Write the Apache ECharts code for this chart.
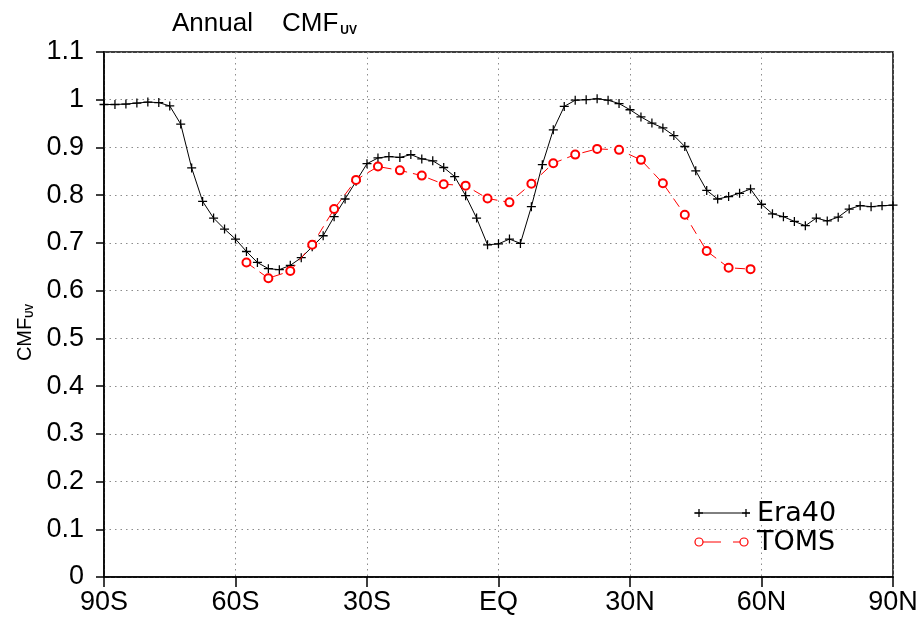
<!DOCTYPE html>
<html>
<head>
<meta charset="utf-8">
<script src="https://cdn.jsdelivr.net/npm/echarts@6/dist/echarts.min.js"></script>
<style>
  html, body { margin: 0; padding: 0; background: #fff; }
  #chart { width: 923px; height: 623px; }
</style>
</head>
<body>
<div id="chart"></div>
<script>
// Zonal-mean annual UV cloud modification factor, 90S..90N
const eraLat = [
  -90, -87.5, -85, -82.5, -80, -77.5, -75, -72.5, -70, -67.5, -65, -62.5,
  -60, -57.5, -55, -52.5, -50, -47.5, -45, -42.5, -40, -37.5, -35, -32.5,
  -30, -27.5, -25, -22.5, -20, -17.5, -15, -12.5, -10, -7.5, -5, -2.5,
  0, 2.5, 5, 7.5, 10, 12.5, 15, 17.5, 20, 22.5, 25, 27.5,
  30, 32.5, 35, 37.5, 40, 42.5, 45, 47.5, 50, 52.5, 55, 57.5,
  60, 62.5, 65, 67.5, 70, 72.5, 75, 77.5, 80, 82.5, 85, 87.5, 90
];
const eraCmf = [
  0.990, 0.990, 0.991, 0.993, 0.995, 0.994, 0.987, 0.949, 0.857, 0.787, 0.752, 0.729,
  0.708, 0.682, 0.659, 0.646, 0.644, 0.653, 0.669, 0.692, 0.715, 0.755, 0.792, 0.829,
  0.866, 0.878, 0.881, 0.879, 0.885, 0.876, 0.872, 0.858, 0.839, 0.799, 0.752, 0.696,
  0.698, 0.708, 0.699, 0.776, 0.864, 0.937, 0.986, 0.999, 1.000, 1.002, 0.999, 0.992,
  0.979, 0.964, 0.951, 0.941, 0.925, 0.902, 0.851, 0.810, 0.792, 0.797, 0.804, 0.813,
  0.781, 0.761, 0.755, 0.745, 0.736, 0.752, 0.746, 0.754, 0.771, 0.778, 0.776, 0.778, 0.779
];
const tomsLat = [
  -57.5, -52.5, -47.5, -42.5, -37.5, -32.5, -27.5, -22.5, -17.5, -12.5, -7.5, -2.5,
  2.5, 7.5, 12.5, 17.5, 22.5, 27.5, 32.5, 37.5, 42.5, 47.5, 52.5, 57.5
];
const tomsCmf = [
  0.659, 0.626, 0.641, 0.696, 0.771, 0.832, 0.860, 0.852, 0.841, 0.823, 0.820, 0.793,
  0.785, 0.824, 0.867, 0.885, 0.897, 0.895, 0.874, 0.825, 0.759, 0.683, 0.648, 0.645
];

const xTickValues = [-90, -60, -30, 0, 30, 60, 90];
const xTickLabels = ['90S', '60S', '30S', 'EQ', '30N', '60N', '90N'];
const yTickLabels = ['0', '0.1', '0.2', '0.3', '0.4', '0.5', '0.6', '0.7', '0.8', '0.9', '1', '1.1'];

const seriesNames = ['Era40', 'TOMS'];

const SANS = '"Liberation Sans", Arial, sans-serif';
const WIDE = '"DejaVu Sans", "Liberation Sans", sans-serif';

// plus-shaped marker built from two thin bars
const PLUS = 'path://M0,4.3H10V5.7H0Z M4.3,0H5.7V10H4.3Z';

const pairs = (xs, ys) => xs.map((x, i) => [x, ys[i]]);

const chart = echarts.init(document.getElementById('chart'), null, { renderer: 'canvas' });

const blackLine = { stroke: '#000', lineWidth: 1.3 };
const redLine = { stroke: '#ff0000', lineWidth: 1 };
const gridDots = { color: '#8c8c8c', width: 1, type: [1.5, 4] };

const option = {
  animation: false,
  backgroundColor: '#fff',
  title: {
    left: 167,
    top: 6,
    text: '{a|Annual}{b|CMF}{c|UV}',
    textStyle: {
      rich: {
        a: { fontFamily: SANS, fontSize: 26, color: '#000', fontWeight: 'normal' },
        b: { fontFamily: SANS, fontSize: 26, color: '#000', fontWeight: 'normal', padding: [0, 0, 0, 29] },
        c: { fontFamily: SANS, fontSize: 12, color: '#000', fontWeight: 'bold', verticalAlign: 'bottom', padding: [0, 0, 0, 2] }
      }
    }
  },
  grid: {
    left: 104, right: 30, top: 52, bottom: 46,
    show: true, borderColor: '#000', borderWidth: 1.5
  },
  xAxis: {
    type: 'value',
    min: -90, max: 90, interval: 30,
    axisLine: { show: true, onZero: false, lineStyle: { color: '#000', width: 1.5 } },
    axisTick: { show: true, length: 10, lineStyle: { color: '#000', width: 1.5 } },
    axisLabel: {
      margin: 12,
      fontFamily: SANS, fontSize: 27, color: '#000',
      formatter: v => xTickLabels[xTickValues.indexOf(v)]
    },
    splitLine: { show: true, lineStyle: gridDots }
  },
  yAxis: {
    type: 'value',
    min: 0, max: 1.1, interval: 0.1,
    name: '{a|CMF}{b|UV}',
    nameLocation: 'middle',
    nameRotate: 90,
    nameGap: 66,
    nameTextStyle: {
      padding: [0, 36, 0, 0],
      rich: {
        a: { fontFamily: SANS, fontSize: 20, color: '#000' },
        b: { fontFamily: SANS, fontSize: 10, color: '#000', fontWeight: 'bold', verticalAlign: 'bottom' }
      }
    },
    axisLine: { show: true, onZero: false, lineStyle: { color: '#000', width: 1.5 } },
    axisTick: { show: true, length: 8, lineStyle: { color: '#000', width: 1.5 } },
    axisLabel: {
      margin: 20,
      fontFamily: SANS, fontSize: 27, color: '#000',
      formatter: v => yTickLabels[Math.round(v * 10)]
    },
    splitLine: { show: true, lineStyle: gridDots }
  },
  series: [
    {
      name: seriesNames[0],
      type: 'line',
      data: pairs(eraLat, eraCmf),
      symbol: PLUS,
      symbolSize: 9,
      showAllSymbol: true,
      itemStyle: { color: '#000', borderWidth: 0 },
      lineStyle: { color: '#000', width: 1 },
      z: 3
    },
    {
      name: seriesNames[1],
      type: 'line',
      data: pairs(tomsLat, tomsCmf),
      symbol: 'emptyCircle',
      symbolSize: 8,
      showAllSymbol: true,
      itemStyle: { color: '#ff0000', borderWidth: 1.2 },
      lineStyle: { color: '#ff0000', width: 1, type: [10, 6] },
      z: 4
    }
  ],
  graphic: [
    // legend, lower right of the plot
    { type: 'line', shape: { x1: 694, y1: 513, x2: 750, y2: 513 }, style: { stroke: '#000', lineWidth: 1 }, z: 10 },
    { type: 'line', shape: { x1: 695, y1: 513, x2: 703, y2: 513 }, style: blackLine, z: 10 },
    { type: 'line', shape: { x1: 699, y1: 509, x2: 699, y2: 517 }, style: blackLine, z: 10 },
    { type: 'line', shape: { x1: 742, y1: 513, x2: 750, y2: 513 }, style: blackLine, z: 10 },
    { type: 'line', shape: { x1: 746, y1: 509, x2: 746, y2: 517 }, style: blackLine, z: 10 },
    { type: 'text', left: 757, top: 500, style: { text: seriesNames[0], font: '27px ' + WIDE, fill: '#000' }, z: 10 },

    { type: 'line', shape: { x1: 703, y1: 542, x2: 721, y2: 542 }, style: redLine, z: 10 },
    { type: 'line', shape: { x1: 733, y1: 542, x2: 740, y2: 542 }, style: redLine, z: 10 },
    { type: 'circle', shape: { cx: 699, cy: 542, r: 4 }, style: { stroke: '#ff0000', lineWidth: 1.2, fill: '#fff' }, z: 10 },
    { type: 'circle', shape: { cx: 744, cy: 542, r: 4 }, style: { stroke: '#ff0000', lineWidth: 1.2, fill: '#fff' }, z: 10 },
    { type: 'text', left: 757, top: 529, style: { text: seriesNames[1], font: '27px ' + WIDE, fill: '#000' }, z: 10 }
  ]
};

chart.setOption(option);
</script>
</body>
</html>
